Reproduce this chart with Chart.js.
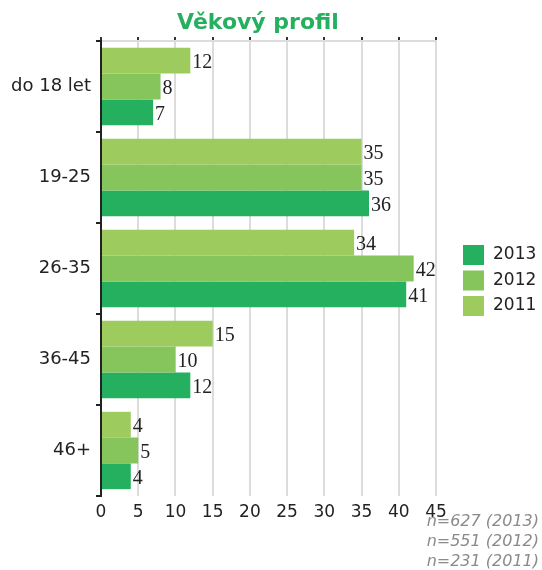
<!DOCTYPE html>
<html>
  <head>
    <meta charset="UTF-8" />
    <title>Věkový profil</title>
    <script src="https://cdn.jsdelivr.net/npm/chart.js@4/dist/chart.umd.min.js"></script>
    <style>
      html, body { margin: 0; padding: 0; background: #fff; }
      #wrap { width: 542px; height: 570px; }
    </style>
  </head>
  <body>
    <div id="wrap"><canvas id="chart"></canvas></div>
    <script>
      // data
      const categories = ["do 18 let", "19-25", "26-35", "36-45", "46+"];
      const years = ["2011", "2012", "2013"];
      const values2011 = [12, 35, 34, 15, 4];
      const values2012 = [8, 35, 42, 10, 5];
      const values2013 = [7, 36, 41, 12, 4];
      const colors = ["#9dcb5e", "#86c45c", "#25b05f"];
      const sampleNotes = ["n=627 (2013)", "n=551 (2012)", "n=231 (2011)"];

      const sans = "'DejaVu Sans', Verdana, sans-serif";

      // value at the end of every bar
      const valueLabels = {
        id: "valueLabels",
        afterDatasetsDraw(chart) {
          const ctx = chart.ctx;
          ctx.save();
          ctx.font = "20px 'Liberation Serif', 'Times New Roman', serif";
          ctx.fillStyle = "#222";
          ctx.textAlign = "left";
          ctx.textBaseline = "middle";
          chart.data.datasets.forEach((ds, i) => {
            chart.getDatasetMeta(i).data.forEach((bar, j) => {
              ctx.fillText(ds.data[j], bar.x + 2, bar.y + 2);
            });
          });
          ctx.restore();
        }
      };

      // title, legend on the right (newest first) and the sample sizes
      const extras = {
        id: "extras",
        afterDraw(chart) {
          const ctx = chart.ctx;
          ctx.save();
          ctx.font = "bold 22px " + sans;
          ctx.fillStyle = "#25b05f";
          ctx.textAlign = "center";
          ctx.textBaseline = "middle";
          ctx.fillText("Věkový profil", 258, 23);

          ctx.font = "17px " + sans;
          ctx.textAlign = "left";
          const ds = chart.data.datasets.slice().reverse();
          ds.forEach((d, i) => {
            const y = 245 + i * 25.5;
            ctx.fillStyle = d.backgroundColor;
            ctx.fillRect(463, y, 21, 20);
            ctx.fillStyle = "#222";
            ctx.fillText(d.label, 493, y + 10);
          });

          ctx.font = "italic 16px " + sans;
          ctx.fillStyle = "#8a8a8a";
          ctx.textAlign = "right";
          sampleNotes.forEach((t, i) => {
            ctx.fillText(t, 539, 522 + i * 20);
          });
          ctx.restore();
        }
      };

      new Chart(document.getElementById("chart"), {
        type: "bar",
        data: {
          labels: categories,
          datasets: [
            { label: years[0], data: values2011, backgroundColor: colors[0] },
            { label: years[1], data: values2012, backgroundColor: colors[1] },
            { label: years[2], data: values2013, backgroundColor: colors[2] }
          ]
        },
        options: {
          indexAxis: "y",
          responsive: true,
          maintainAspectRatio: false,
          animation: false,
          layout: { padding: { top: 36, right: 106, left: 0, bottom: 0 } },
          datasets: { bar: { categoryPercentage: 0.85, barPercentage: 1 } },
          plugins: {
            legend: { display: false },
            title: { display: false },
            tooltip: { enabled: false }
          },
          scales: {
            x: {
              type: "linear",
              position: "bottom",
              min: 0,
              max: 45,
              ticks: { stepSize: 5, color: "#222", font: { family: sans, size: 17 }, padding: 6 },
              grid: { color: "#dcdcdc", lineWidth: 2, drawTicks: false },
              border: { display: false },
              afterFit(s) { s.height = 74; }
            },
            x2: {
              type: "linear",
              position: "top",
              min: 0,
              max: 45,
              ticks: { stepSize: 5, display: false },
              grid: { drawOnChartArea: false, tickLength: 4, color: "#333", lineWidth: 2 },
              border: { color: "#dcdcdc", width: 2 },
              afterFit(s) { s.height = 5; }
            },
            y: {
              type: "category",
              offset: true,
              ticks: { color: "#222", font: { family: sans, size: 18 }, padding: 5 },
              grid: { offset: true, drawOnChartArea: false, tickLength: 5, color: "#222", lineWidth: 2 },
              border: { color: "#222", width: 2 },
              afterFit(s) { s.width = 101; }
            }
          }
        },
        plugins: [valueLabels, extras]
      });
    </script>
  </body>
</html>
